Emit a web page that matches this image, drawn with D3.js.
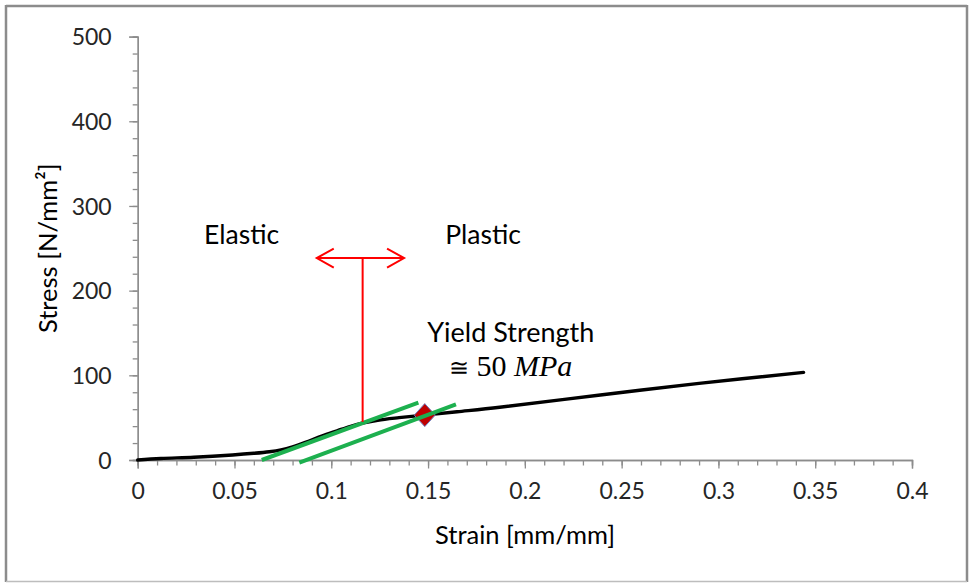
<!DOCTYPE html>
<html>
<head>
<meta charset="utf-8">
<script src="https://cdn.jsdelivr.net/npm/d3@7/dist/d3.min.js"></script>
<style>
  html, body { margin: 0; padding: 0; background: #fff; }
  svg { display: block; }
  .tick-label { font-family: Lato, "Open Sans", sans-serif; fill: #262626; }
  .title { font-family: Lato, "Open Sans", sans-serif; fill: #000; }
</style>
</head>
<body>
<svg id="chart" width="969" height="583"></svg>
<script>
// Stress–strain curve (strain in mm/mm, stress in N/mm²)
const strain = [0, 0.012, 0.029, 0.049, 0.060, 0.068, 0.074, 0.080, 0.087, 0.095, 0.103, 0.110, 0.116, 0.124, 0.135, 0.148, 0.165, 0.187, 0.239, 0.290, 0.344];
const stress = [0, 1.8, 3.2, 5.9, 7.9, 9.8, 12.0, 15.6, 21.2, 28.3, 34.5, 39.8, 43.6, 47.0, 50.0, 53.0, 57.0, 62.3, 76.8, 90.5, 103.5];

// Yield point
const yieldStrain = [0.1483];
const yieldStress = [53];

// Parallel elastic-slope construction lines: [start, end]
const offsetStrainA = [0.0641, 0.1450];
const offsetStressA = [0, 67.8];
const offsetStrainB = [0.0835, 0.1644];
const offsetStressB = [-3, 65.8];

// Elastic / plastic boundary marker
const boundaryStrain = [0.1162];
const boundaryStress = [45, 238.5];
const arrowStrain = [0.0925, 0.1376];

// Axis ticks
const xTicks = [0, 0.05, 0.1, 0.15, 0.2, 0.25, 0.3, 0.35, 0.4];
const xTickLabels = ["0", "0.05", "0.1", "0.15", "0.2", "0.25", "0.3", "0.35", "0.4"];
const xMinorTicks = d3.range(0, 41).map(i => i / 100);
const yTicks = [0, 100, 200, 300, 400, 500];
const yTickLabels = ["0", "100", "200", "300", "400", "500"];
const yMinorTicks = d3.range(0, 26).map(i => i * 20);

const svg = d3.select("#chart");

const x = d3.scaleLinear().domain([0, 0.4]).range([137.7, 912]);
const y = d3.scaleLinear().domain([0, 500]).range([460, 36.6]);

// outer frame
const frame = svg.append("g");
frame.append("line").attr("x1", 6).attr("y1", 6).attr("x2", 967).attr("y2", 6)
  .attr("stroke", "#8c8c8c").attr("stroke-width", 2.5);
frame.append("line").attr("x1", 6).attr("y1", 5).attr("x2", 6).attr("y2", 582)
  .attr("stroke", "#8c8c8c").attr("stroke-width", 2.5);
frame.append("line").attr("x1", 967).attr("y1", 5).attr("x2", 967).attr("y2", 582)
  .attr("stroke", "#8c8c8c").attr("stroke-width", 2.5);
frame.append("line").attr("x1", 6).attr("y1", 581.5).attr("x2", 967).attr("y2", 581.5)
  .attr("stroke", "#bdbdbd").attr("stroke-width", 1.5);

const axisColor = "#8c8c8c";

// x axis: minor ticks, then major ticks with labels
const xAxisMinor = d3.axisBottom(x).tickValues(xMinorTicks).tickSize(5.5).tickFormat("");
const xAxisMajor = d3.axisBottom(x).tickValues(xTicks).tickSize(8.5).tickPadding(14)
  .tickFormat((d, i) => xTickLabels[i]);
const gxMinor = svg.append("g").attr("transform", `translate(0,${y(0)})`).call(xAxisMinor);
const gx = svg.append("g").attr("transform", `translate(0,${y(0)})`).call(xAxisMajor);
[gxMinor, gx].forEach(g => {
  g.select(".domain").attr("stroke", axisColor).attr("stroke-width", 1.3);
  g.selectAll(".tick line").attr("stroke", axisColor).attr("stroke-width", 1.3);
});
gx.selectAll(".tick text").attr("class", "tick-label").attr("font-size", 23)
  .attr("dy", "0.71em").attr("y", 23);

// y axis
const yAxisMinor = d3.axisLeft(y).tickValues(yMinorTicks).tickSize(5).tickFormat("");
const yAxisMajor = d3.axisLeft(y).tickValues(yTicks).tickSize(8.5).tickPadding(16)
  .tickFormat((d, i) => yTickLabels[i]);
const gyMinor = svg.append("g").attr("transform", `translate(${x(0)},0)`).call(yAxisMinor);
const gy = svg.append("g").attr("transform", `translate(${x(0)},0)`).call(yAxisMajor);
[gyMinor, gy].forEach(g => {
  g.select(".domain").attr("stroke", axisColor).attr("stroke-width", 1.3);
  g.selectAll(".tick line").attr("stroke", axisColor).attr("stroke-width", 1.3);
});
gy.selectAll(".tick text").attr("class", "tick-label").attr("font-size", 23)
  .attr("x", -26).attr("dy", "0.36em");

// axis titles
svg.append("text").attr("class", "title")
  .attr("x", 525).attr("y", 544)
  .attr("text-anchor", "middle").attr("font-size", 25.5)
  .text("Strain [mm/mm]");
svg.append("text").attr("class", "title")
  .attr("transform", `translate(56.5,${(y(0) + y(500)) / 2}) rotate(-90)`)
  .attr("text-anchor", "middle").attr("font-size", 25.5)
  .text("Stress [N/mm²]");

// stress–strain curve
const pts = strain.map((s, i) => [s, stress[i]]);
svg.append("path")
  .datum(pts)
  .attr("fill", "none").attr("stroke", "#000").attr("stroke-width", 3.4)
  .attr("stroke-linecap", "round").attr("stroke-linejoin", "round")
  .attr("d", d3.line().x(d => x(d[0])).y(d => y(d[1])).curve(d3.curveCatmullRom.alpha(0.5)));

// yield point marker
svg.selectAll(".yield").data(yieldStrain).join("path")
  .attr("class", "yield")
  .attr("transform", (d, i) => `translate(${x(d)},${y(yieldStress[i])})`)
  .attr("d", "M0,-11.5 L10.5,0 L0,11.5 L-10.5,0 Z")
  .attr("fill", "#c00000").attr("stroke", "#6f7fc0").attr("stroke-width", 1);

// offset construction lines
const green = "#1db04f";
[[offsetStrainA, offsetStressA], [offsetStrainB, offsetStressB]].forEach(([sx, sy]) => {
  svg.append("line")
    .attr("x1", x(sx[0])).attr("y1", y(sy[0]))
    .attr("x2", x(sx[1])).attr("y2", y(sy[1]))
    .attr("stroke", green).attr("stroke-width", 4);
});

// elastic / plastic boundary with double arrow
const red = "#ff0000";
svg.append("line")
  .attr("x1", x(boundaryStrain[0])).attr("y1", y(boundaryStress[0]))
  .attr("x2", x(boundaryStrain[0])).attr("y2", y(boundaryStress[1]))
  .attr("stroke", red).attr("stroke-width", 2);
const ay = y(boundaryStress[1]);
const ax0 = x(arrowStrain[0]), ax1 = x(arrowStrain[1]);
svg.append("line").attr("x1", ax0).attr("y1", ay).attr("x2", ax1).attr("y2", ay)
  .attr("stroke", red).attr("stroke-width", 2);
svg.append("path")
  .attr("d", `M${ax0 + 17},${ay - 9.5} L${ax0},${ay} L${ax0 + 17},${ay + 9.5}`)
  .attr("fill", "none").attr("stroke", red).attr("stroke-width", 2);
svg.append("path")
  .attr("d", `M${ax1 - 17},${ay - 9.5} L${ax1},${ay} L${ax1 - 17},${ay + 9.5}`)
  .attr("fill", "none").attr("stroke", red).attr("stroke-width", 2);

// region labels
svg.append("text").attr("class", "title").attr("font-size", 26.5)
  .attr("x", x(0.0537)).attr("y", y(255)).attr("text-anchor", "middle").text("Elastic");
svg.append("text").attr("class", "title").attr("font-size", 26.5)
  .attr("x", x(0.1784)).attr("y", y(255)).attr("text-anchor", "middle").text("Plastic");
svg.append("text").attr("class", "title").attr("font-size", 27)
  .attr("x", x(0.1927)).attr("y", y(139.9)).attr("text-anchor", "middle").text("Yield Strength");

const mathLabel = svg.append("text")
  .attr("x", x(0.1927)).attr("y", y(99.3)).attr("text-anchor", "middle")
  .attr("font-family", "'Liberation Serif', 'DejaVu Serif', serif").attr("font-size", 30).attr("fill", "#000");
mathLabel.append("tspan").attr("font-family", "'DejaVu Serif', serif").attr("font-size", 24).text("≅");
mathLabel.append("tspan").text(" 50 ");
mathLabel.append("tspan").attr("font-style", "italic").text("MPa");
</script>
</body>
</html>
